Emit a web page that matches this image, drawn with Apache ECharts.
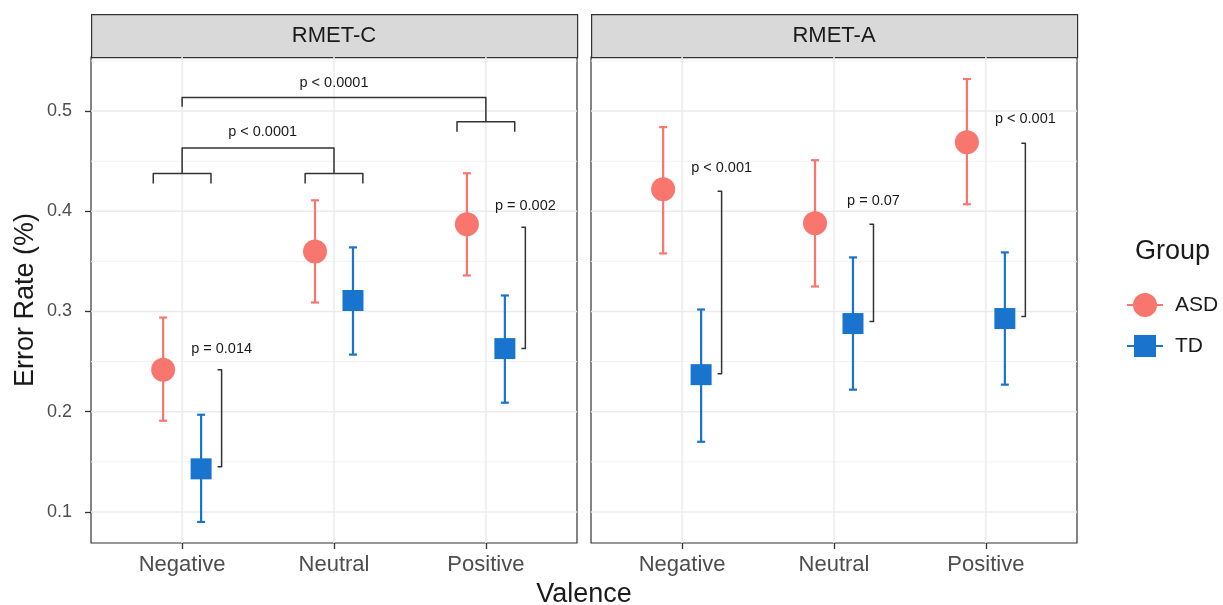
<!DOCTYPE html>
<html>
<head>
<meta charset="utf-8">
<script src="https://cdn.jsdelivr.net/npm/echarts@6/dist/echarts.min.js"></script>
<style>
  html, body { margin: 0; padding: 0; background: #ffffff; }
  #chart { width: 1223px; height: 605px; }
</style>
</head>
<body>
<div id="chart"></div>
<script>
// ---------------- data ----------------
const valences = ['Negative', 'Neutral', 'Positive'];
const panels = ['RMET-C', 'RMET-A'];
const groups = ['ASD', 'TD'];

// RMET-C
const asdMeanC = [0.242, 0.360, 0.387];
const asdLowC  = [0.191, 0.309, 0.336];
const asdHighC = [0.294, 0.411, 0.438];
const tdMeanC  = [0.143, 0.311, 0.263];
const tdLowC   = [0.090, 0.257, 0.209];
const tdHighC  = [0.197, 0.364, 0.316];

// RMET-A
const asdMeanA = [0.422, 0.388, 0.469];
const asdLowA  = [0.358, 0.325, 0.407];
const asdHighA = [0.484, 0.451, 0.532];
const tdMeanA  = [0.237, 0.288, 0.293];
const tdLowA   = [0.170, 0.222, 0.227];
const tdHighA  = [0.302, 0.354, 0.359];

// pairwise ASD vs TD annotations
const pLabelC  = ['p = 0.014', null, 'p = 0.002'];
const pTopC    = [0.242, null, 0.384];
const pBottomC = [0.145, null, 0.263];
const pLabelYC = [0.263, null, 0.405];

const pLabelA  = ['p < 0.001', 'p = 0.07', 'p < 0.001'];
const pTopA    = [0.420, 0.387, 0.468];
const pBottomA = [0.238, 0.290, 0.295];
const pLabelYA = [0.443, 0.410, 0.492];

// valence comparisons in RMET-C
const braceCat   = [1, 2, 3];
const braceY     = [0.4377, 0.4377, 0.4893];
const compFrom   = [1, 1];
const compTo     = [2, 3];
const compY      = [0.4633, 0.5137];
const compLeftEnd  = [0.4377, 0.5043];
const compRightEnd = [0.4377, 0.4893];
const compLabel  = ['p < 0.0001', 'p < 0.0001'];
const compLabelX = [1.53, 2.0];
const compLabelY = [0.4793, 0.5277];

// axis ticks
const majorY = [0.1, 0.2, 0.3, 0.4, 0.5];
const minorY = [0.15, 0.25, 0.35, 0.45, 0.55];
const yMin = 0.069, yMax = 0.554;

// ---------------- styling ----------------
const FONT = 'Liberation Sans, Arial, Helvetica, sans-serif';
const ASD_COLOR = '#F8766D';
const TD_COLOR = '#1874CD';
const DODGE = 0.125;
const PBR_OFF = 0.26;
const BRACE_HALF = 0.19;

const gridPos = [
  { left: 91, top: 57, width: 486, height: 486 },
  { left: 591, top: 57, width: 486, height: 486 }
];

const catPos = valences.map((v, i) => i + 1);

function gridLineData() {
  return [].concat(
    majorY.map(v => [0, v]),
    minorY.map(v => [1, v]),
    catPos.map(v => [2, v])
  );
}

function renderGridLine(params, api) {
  const kind = api.value(0), v = api.value(1);
  const cs = params.coordSys;
  if (kind === 2) {
    const x = api.coord([v, majorY[2]])[0];
    return { type: 'line', shape: { x1: x, y1: cs.y, x2: x, y2: cs.y + cs.height },
      style: { stroke: '#ebebeb', lineWidth: 1.5 } };
  }
  const y = api.coord([2, v])[1];
  return { type: 'line', shape: { x1: cs.x, y1: y, x2: cs.x + cs.width, y2: y },
    style: { stroke: kind === 0 ? '#ebebeb' : '#f2f2f2', lineWidth: kind === 0 ? 1.5 : 1 } };
}

function errRender(color) {
  return function (params, api) {
    const x = api.value(0), lo = api.value(1), hi = api.value(2);
    const pl = api.coord([x, lo]), ph = api.coord([x, hi]);
    const cap = 4;
    const st = { stroke: color, lineWidth: 2.2 };
    return { type: 'group', children: [
      { type: 'line', shape: { x1: pl[0], y1: pl[1], x2: ph[0], y2: ph[1] }, style: st },
      { type: 'line', shape: { x1: ph[0] - cap, y1: ph[1], x2: ph[0] + cap, y2: ph[1] }, style: st },
      { type: 'line', shape: { x1: pl[0] - cap, y1: pl[1], x2: pl[0] + cap, y2: pl[1] }, style: st }
    ] };
  };
}

function pairItems(labels, tops, bottoms, labelYs) {
  const out = [];
  labels.forEach((lab, i) => {
    if (lab !== null) out.push({ value: [catPos[i] + PBR_OFF, tops[i], bottoms[i], labelYs[i]], label: lab });
  });
  return out;
}

function pairRender(items) {
  return function (params, api) {
    const x = api.value(0);
    const pt = api.coord([x, api.value(1)]);
    const pb = api.coord([x, api.value(2)]);
    const pl = api.coord([x, api.value(3)]);
    return { type: 'group', children: [
      { type: 'polyline', shape: { points: [[pt[0] - 4, pt[1]], pt, pb, [pb[0] - 4, pb[1]]] },
        style: { stroke: '#333333', lineWidth: 1.5, fill: null, lineJoin: 'round' } },
      { type: 'text', x: pl[0], y: pl[1],
        style: { text: items[params.dataIndex].label, fill: '#1a1a1a', fontSize: 14.5, fontFamily: FONT,
          align: 'center', verticalAlign: 'middle' } }
    ] };
  };
}

function braceRender(params, api) {
  const c = api.value(0), y = api.value(1);
  const l = api.coord([c - BRACE_HALF, y]);
  const r = api.coord([c + BRACE_HALF, y]);
  return { type: 'polyline', shape: { points: [[l[0], l[1] + 10], l, r, [r[0], r[1] + 10]] },
    style: { stroke: '#333333', lineWidth: 1.5, fill: null, lineJoin: 'round' } };
}

function compRender(params, api) {
  const i = params.dataIndex;
  const x1 = api.value(0), x2 = api.value(1), y = api.value(2);
  const a = api.coord([x1, api.value(3)]);
  const b = api.coord([x1, y]);
  const c = api.coord([x2, y]);
  const d = api.coord([x2, api.value(4)]);
  const t = api.coord([api.value(5), api.value(6)]);
  return { type: 'group', children: [
    { type: 'polyline', shape: { points: [a, b, c, d] },
      style: { stroke: '#333333', lineWidth: 1.5, fill: null, lineJoin: 'round' } },
    { type: 'text', x: t[0], y: t[1],
      style: { text: compLabel[i], fill: '#1a1a1a', fontSize: 14.5, fontFamily: FONT,
        align: 'center', verticalAlign: 'middle' } }
  ] };
}

// ---------------- build option ----------------
const panelData = [
  { asdMean: asdMeanC, asdLow: asdLowC, asdHigh: asdHighC, tdMean: tdMeanC, tdLow: tdLowC, tdHigh: tdHighC,
    pItems: pairItems(pLabelC, pTopC, pBottomC, pLabelYC) },
  { asdMean: asdMeanA, asdLow: asdLowA, asdHigh: asdHighA, tdMean: tdMeanA, tdLow: tdLowA, tdHigh: tdHighA,
    pItems: pairItems(pLabelA, pTopA, pBottomA, pLabelYA) }
];

const grids = gridPos.map(g => Object.assign({ show: true, borderColor: '#333333', borderWidth: 1.2,
  backgroundColor: '#ffffff' }, g));

const xAxes = panels.map((p, k) => ({
  type: 'value', gridIndex: k, min: 0.4, max: 3.6,
  axisLine: { show: false },
  splitLine: { show: false },
  axisTick: { show: true, length: 6, customValues: catPos, lineStyle: { color: '#333333', width: 1.3 } },
  axisLabel: { show: true, customValues: catPos, margin: 11, fontSize: 22, color: '#4d4d4d', fontFamily: FONT,
    formatter: v => valences[Math.round(v) - 1] || '' }
}));

const yAxes = panels.map((p, k) => ({
  type: 'value', gridIndex: k, min: yMin, max: yMax,
  axisLine: { show: false },
  splitLine: { show: false },
  axisTick: { show: k === 0, length: 6, customValues: majorY, lineStyle: { color: '#333333', width: 1.3 } },
  axisLabel: { show: k === 0, customValues: majorY, margin: 19, fontSize: 18, color: '#4d4d4d', fontFamily: FONT,
    formatter: v => v.toFixed(1) },
  name: k === 0 ? 'Error Rate (%)' : '',
  nameLocation: 'middle', nameRotate: 90, nameGap: 52,
  nameTextStyle: { fontSize: 27, color: '#1a1a1a', fontFamily: FONT }
}));

const series = [];
panelData.forEach((pd, k) => {
  series.push({
    type: 'custom', name: 'grid' + k, xAxisIndex: k, yAxisIndex: k, z: 1, silent: true,
    renderItem: renderGridLine, data: gridLineData()
  });
  series.push({
    type: 'custom', name: 'ASD-err' + k, xAxisIndex: k, yAxisIndex: k, z: 2, silent: true,
    renderItem: errRender(ASD_COLOR),
    data: catPos.map((c, i) => [c - DODGE, pd.asdLow[i], pd.asdHigh[i]])
  });
  series.push({
    type: 'scatter', name: 'ASD', xAxisIndex: k, yAxisIndex: k, z: 3,
    symbol: 'circle', symbolSize: 24, itemStyle: { color: ASD_COLOR, opacity: 1 },
    data: catPos.map((c, i) => [c - DODGE, pd.asdMean[i]])
  });
  series.push({
    type: 'custom', name: 'TD-err' + k, xAxisIndex: k, yAxisIndex: k, z: 2, silent: true,
    renderItem: errRender(TD_COLOR),
    data: catPos.map((c, i) => [c + DODGE, pd.tdLow[i], pd.tdHigh[i]])
  });
  series.push({
    type: 'scatter', name: 'TD', xAxisIndex: k, yAxisIndex: k, z: 3,
    symbol: 'rect', symbolSize: 21, itemStyle: { color: TD_COLOR, opacity: 1 },
    data: catPos.map((c, i) => [c + DODGE, pd.tdMean[i]])
  });
  series.push({
    type: 'custom', name: 'pairs' + k, xAxisIndex: k, yAxisIndex: k, z: 4, silent: true,
    renderItem: pairRender(pd.pItems), data: pd.pItems.map(d => d.value)
  });
});

series.push({
  type: 'custom', name: 'braces', xAxisIndex: 0, yAxisIndex: 0, z: 4, silent: true,
  renderItem: braceRender, data: braceCat.map((c, i) => [c, braceY[i]])
});
series.push({
  type: 'custom', name: 'comps', xAxisIndex: 0, yAxisIndex: 0, z: 4, silent: true,
  renderItem: compRender,
  data: compFrom.map((f, i) => [f, compTo[i], compY[i], compLeftEnd[i], compRightEnd[i], compLabelX[i], compLabelY[i]])
});

const circleIcon = 'path://M0,11 L36,11 L36,13 L0,13 Z M6,12 A6,6 0 1,1 30,12 A6,6 0 1,1 6,12 Z';
const squareIcon = 'path://M0,11 L36,11 L36,13 L0,13 Z M7,1 L29,1 L29,23 L7,23 Z';

const graphics = [];
gridPos.forEach((g, k) => {
  graphics.push({
    type: 'rect', left: g.left, top: 14, silent: true,
    shape: { width: g.width, height: 43 },
    style: { fill: '#d9d9d9', stroke: '#333333', lineWidth: 1.2 }
  });
  graphics.push({
    type: 'text', x: g.left + g.width / 2, y: 35.5, silent: true,
    style: { text: panels[k], fontSize: 22, fontFamily: FONT, fill: '#1a1a1a', align: 'center', verticalAlign: 'middle' }
  });
});
graphics.push({
  type: 'text', x: (gridPos[0].left + gridPos[1].left + gridPos[1].width) / 2, y: 595, silent: true,
  style: { text: 'Valence', fontSize: 27, fontFamily: FONT, fill: '#1a1a1a', align: 'center', verticalAlign: 'middle' }
});
graphics.push({
  type: 'text', x: 1135, y: 252, silent: true,
  style: { text: 'Group', fontSize: 27, fontFamily: FONT, fill: '#1a1a1a', align: 'left', verticalAlign: 'middle' }
});

const option = {
  animation: false,
  backgroundColor: '#ffffff',
  textStyle: { fontFamily: FONT },
  grid: grids,
  xAxis: xAxes,
  yAxis: yAxes,
  legend: {
    orient: 'vertical', left: 1122, top: 288,
    itemWidth: 36, itemHeight: 24, itemGap: 18,
    selectedMode: false,
    textStyle: { fontSize: 21, color: '#1a1a1a', fontFamily: FONT, padding: [0, 0, 0, 7] },
    data: [{ name: 'ASD', icon: circleIcon }, { name: 'TD', icon: squareIcon }]
  },
  graphic: graphics,
  series: series
};

const chart = echarts.init(document.getElementById('chart'), null, { renderer: 'canvas' });
chart.setOption(option);
</script>
</body>
</html>
